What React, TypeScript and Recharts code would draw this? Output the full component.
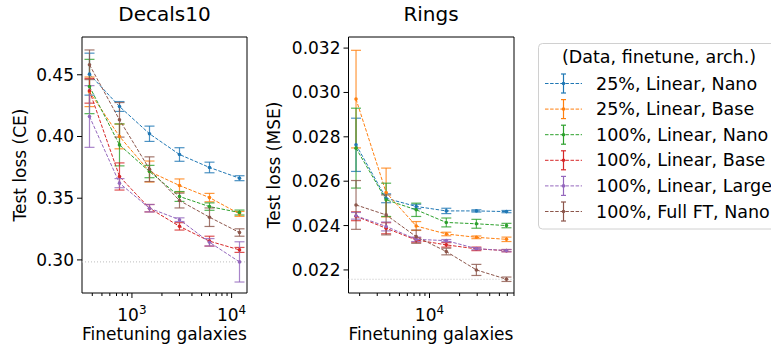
import React from "react";
import { LineChart, Line, XAxis, YAxis, ErrorBar, ReferenceLine, ReferenceArea } from "recharts";

const FONT = "'DejaVu Sans', 'Liberation Sans', sans-serif";

const labels = [
  "25%, Linear, Nano",
  "25%, Linear, Base",
  "100%, Linear, Nano",
  "100%, Linear, Base",
  "100%, Linear, Large",
  "100%, Full FT, Nano",
];
const colors = ["#1f77b4", "#ff7f0e", "#2ca02c", "#d62728", "#9467bd", "#8c564b"];

// Decals10 (CE)
const decalsX = [375, 750, 1500, 3000, 6000, 12000];
const decalsMean = [
  [0.4505, 0.4243, 0.4022, 0.3854, 0.3749, 0.3662],
  [0.4362, 0.4, 0.3716, 0.3603, 0.3505, 0.3373],
  [0.4405, 0.3932, 0.3716, 0.3514, 0.3432, 0.3384],
  [0.437, 0.3676, 0.3419, 0.3272, 0.3152, 0.3081],
  [0.4162, 0.3622, 0.3419, 0.3326, 0.3143, 0.2984],
  [0.4581, 0.4135, 0.3735, 0.3481, 0.3346, 0.3222],
];
const decalsErr = [
  [0.017, 0.004, 0.0062, 0.0055, 0.0043, 0.002],
  [0.012, 0.01, 0.0085, 0.0053, 0.0034, 0.002],
  [0.022, 0.017, 0.005, 0.004, 0.003, 0.002],
  [0.01, 0.011, 0.003, 0.003, 0.004, 0.002],
  [0.025, 0.0037, 0.003, 0.0015, 0.003, 0.0163],
  [0.012, 0.014, 0.01, 0.006, 0.0075, 0.003],
];
const decalsBest = 0.2984;
const decalsYTicks = [0.3, 0.35, 0.4, 0.45];

// Rings (MSE)
const ringsX = [1840, 3680, 7360, 14720, 29440, 58880];
const ringsMean = [
  [0.02764, 0.02523, 0.02486, 0.02466, 0.02466, 0.02463],
  [0.0297, 0.02549, 0.02398, 0.02362, 0.02347, 0.02338],
  [0.02749, 0.02516, 0.02471, 0.02414, 0.02408, 0.024],
  [0.02442, 0.02388, 0.02335, 0.02313, 0.02295, 0.02287],
  [0.02444, 0.02396, 0.02338, 0.02332, 0.02296, 0.02287],
  [0.02493, 0.02448, 0.0235, 0.02283, 0.022, 0.02158],
];
const ringsErr = [
  [0.0012, 0.0002, 0.0001, 0.00012, 0.00005, 0.00005],
  [0.0022, 0.0011, 0.0002, 0.00008, 0.00006, 0.0001],
  [0.0018, 0.00075, 0.0003, 0.0002, 0.0002, 0.0001],
  [0.0002, 0.00025, 0.0001, 0.0001, 0.00008, 0.00005],
  [0.00015, 0.0002, 0.0001, 0.00005, 0.00005, 0.00005],
  [0.0011, 0.0009, 0.0003, 0.00015, 0.00025, 0.0001],
];
const ringsBest = 0.02158;
const ringsYTicks = [0.022, 0.024, 0.026, 0.028, 0.03, 0.032];

const decalsXTicks = [400, 500, 600, 700, 800, 900, 1000, 2000, 3000, 4000, 5000, 6000, 7000, 8000, 9000, 10000];
const ringsXTicks = [2000, 3000, 4000, 5000, 6000, 7000, 8000, 9000, 10000, 20000, 30000, 40000, 50000, 60000, 70000];

function buildSeries(xs: number[], means: number[][], errs: number[][]) {
  return means.map((m, i) => m.map((v, j) => ({ x: xs[j], y: v, e: errs[i][j] })));
}

function XTick(props: any) {
  const { x, y, payload } = props;
  const lg = Math.log10(payload.value);
  const exp = Math.round(lg);
  const major = Math.abs(lg - exp) < 1e-6;
  return (
    <g>
      <line x1={x} x2={x} y1={y} y2={y + (major ? 5 : 3)} stroke="#000" strokeWidth={1} />
      {major && (
        <text x={x} y={y + 28} textAnchor="middle" fontSize={17} fontFamily={FONT} fill="#000">
          10<tspan dy={-7} fontSize={12}>{exp}</tspan>
        </text>
      )}
    </g>
  );
}

function makeYTick(digits: number) {
  return function YTick(props: any) {
    const { x, y, payload } = props;
    return (
      <g>
        <line x1={x - 5} x2={x} y1={y} y2={y} stroke="#000" strokeWidth={1} />
        <text x={x - 8} y={y + 6} textAnchor="end" fontSize={17} fontFamily={FONT} fill="#000">
          {Number(payload.value).toFixed(digits)}
        </text>
      </g>
    );
  };
}

type PanelProps = {
  width: number;
  yAxisWidth: number;
  marginRight: number;
  series: { x: number; y: number; e: number }[][];
  xDomain: [number, number];
  yDomain: [number, number];
  xTicks: number[];
  yTicks: number[];
  digits: number;
  best: number;
};

function Panel(p: PanelProps) {
  return (
    <LineChart width={p.width} height={345} margin={{ top: 37, right: p.marginRight, bottom: 0, left: 0 }}>
      <XAxis
        type="number"
        dataKey="x"
        scale="log"
        domain={p.xDomain}
        allowDataOverflow
        ticks={p.xTicks}
        interval={0}
        tick={<XTick />}
        tickSize={0}
        tickMargin={0}
        tickLine={false}
        axisLine={false}
        height={52}
      />
      <YAxis
        type="number"
        domain={p.yDomain}
        allowDataOverflow
        ticks={p.yTicks}
        interval={0}
        tick={React.createElement(makeYTick(p.digits))}
        tickSize={0}
        tickMargin={0}
        tickLine={false}
        axisLine={false}
        width={p.yAxisWidth}
      />
      <ReferenceLine y={p.best} stroke="#bdbdbd" strokeWidth={1} strokeDasharray="1 2" />
      {p.series.map((d, i) => (
        <Line
          key={labels[i]}
          data={d}
          dataKey="y"
          type="linear"
          stroke={colors[i]}
          strokeWidth={1}
          strokeDasharray="3.5 1.6"
          dot={{ r: 1.8, fill: colors[i], stroke: colors[i], strokeWidth: 0 }}
          isAnimationActive={false}
        >
          <ErrorBar dataKey="e" direction="y" width={5} stroke={colors[i]} strokeWidth={1.2} strokeOpacity={0.8} />
        </Line>
      ))}
      <ReferenceArea
        x1={p.xDomain[0]}
        x2={p.xDomain[1]}
        y1={p.yDomain[0]}
        y2={p.yDomain[1]}
        fill="none"
        fillOpacity={0}
        stroke="#000"
        strokeWidth={1}
        strokeOpacity={1}
      />
    </LineChart>
  );
}

export default function App() {
  const decals = buildSeries(decalsX, decalsMean, decalsErr);
  const rings = buildSeries(ringsX, ringsMean, ringsErr);
  const rowY = (i: number) => 83.5 + i * 25.6;

  return (
    <div style={{ position: "absolute", left: 0, top: 0, width: 771, height: 345, background: "#fff", overflow: "hidden", fontFamily: FONT }}>
      <div style={{ position: "absolute", left: 0, top: 0 }}>
        <Panel
          width={260}
          yAxisWidth={82}
          marginRight={13}
          series={decals}
          xDomain={[315.4, 14270]}
          yDomain={[0.2732, 0.4806]}
          xTicks={decalsXTicks}
          yTicks={decalsYTicks}
          digits={2}
          best={decalsBest}
        />
      </div>
      <div style={{ position: "absolute", left: 266, top: 0 }}>
        <Panel
          width={254}
          yAxisWidth={82.5}
          marginRight={6}
          series={rings}
          xDomain={[1547, 70030]}
          yDomain={[0.02096, 0.0325]}
          xTicks={ringsXTicks}
          yTicks={ringsYTicks}
          digits={3}
          best={ringsBest}
        />
      </div>
      <svg width={771} height={345} style={{ position: "absolute", left: 0, top: 0, pointerEvents: "none" }}>
        <g fontFamily={FONT} fill="#000">
          <text x={164.5} y={21} textAnchor="middle" fontSize={20}>Decals10</text>
          <text x={431} y={21} textAnchor="middle" fontSize={20}>Rings</text>
          <text x={164.5} y={340} textAnchor="middle" fontSize={17}>Finetuning galaxies</text>
          <text x={431} y={340} textAnchor="middle" fontSize={17}>Finetuning galaxies</text>
          <text transform="translate(26,165) rotate(-90)" textAnchor="middle" fontSize={17}>Test loss (CE)</text>
          <text transform="translate(280,165) rotate(-90)" textAnchor="middle" fontSize={17}>Test loss (MSE)</text>
        </g>
        <rect x={538.5} y={43.5} width={250} height={185.5} rx={4} fill="#fff" stroke="#d0d0d0" strokeWidth={1} />
        <text x={659} y={63} textAnchor="middle" fontSize={17.5} fontFamily={FONT} fill="#000">(Data, finetune, arch.)</text>
        {labels.map((lab, i) => {
          const cy = rowY(i);
          return (
            <g key={lab}>
              <line x1={545} x2={582} y1={cy} y2={cy} stroke={colors[i]} strokeWidth={1} strokeDasharray="3.5 1.6" />
              <line x1={563.5} x2={563.5} y1={cy - 9.5} y2={cy + 9.5} stroke={colors[i]} strokeWidth={1.2} />
              <line x1={561} x2={566} y1={cy - 9.5} y2={cy - 9.5} stroke={colors[i]} strokeWidth={1.2} />
              <line x1={561} x2={566} y1={cy + 9.5} y2={cy + 9.5} stroke={colors[i]} strokeWidth={1.2} />
              <circle cx={563.5} cy={cy} r={1.8} fill={colors[i]} />
              <text x={596} y={cy + 6} fontSize={17.5} fontFamily={FONT} fill="#000">{lab}</text>
            </g>
          );
        })}
      </svg>
    </div>
  );
}
